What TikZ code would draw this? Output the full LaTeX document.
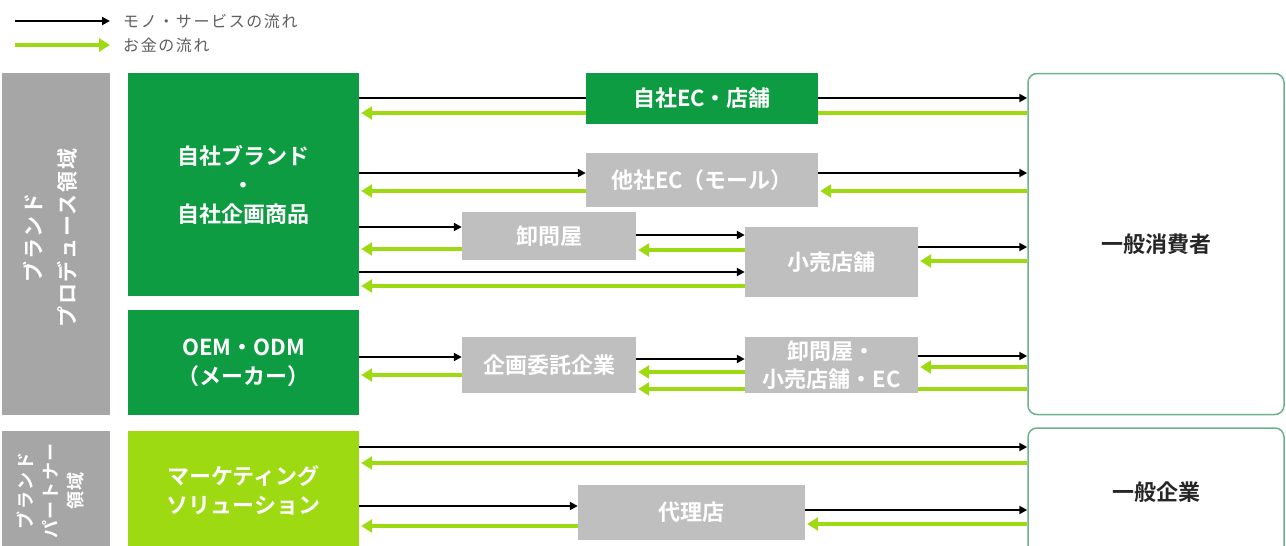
\documentclass[tikz,border=0pt]{standalone}
\usepackage{fontspec}
\setmainfont{Noto Sans CJK JP}[BoldFont={Noto Sans CJK JP Bold}]
\usetikzlibrary{arrows.meta,backgrounds}
\definecolor{brandgreen}{RGB}{14,156,66}
\definecolor{limegreen}{RGB}{158,218,18}
\definecolor{areagray}{RGB}{166,166,166}
\definecolor{boxgray}{RGB}{191,191,191}
\definecolor{frameteal}{RGB}{110,178,140}
\definecolor{keygray}{RGB}{95,95,95}
\tikzset{
  goods/.style={draw=black, line width=2.2pt, -{Triangle[length=8pt,width=8pt]}},
  money/.style={draw=limegreen, line width=4.5pt, -{Triangle[length=11pt,width=13pt]}, shorten >=2pt},
  areabox/.style={fill=areagray, inner sep=0pt},
  areatext/.style={text=white, inner sep=0pt, rotate=90, align=center, font=\bfseries\fontsize{21}{34}\selectfont\addfontfeature{LetterSpace=8}},
  mainbox/.style={fill=brandgreen, text=white, inner sep=0pt, align=center, font=\bfseries\fontsize{22}{29}\selectfont},
  flowbox/.style={fill=boxgray, text=white, inner sep=0pt, align=center, font=\bfseries\fontsize{22}{28}\selectfont},
  endbox/.style={draw=frameteal, line width=1.5pt, rounded corners=9pt, text=black!85, inner sep=0pt, font=\bfseries\fontsize{22}{28}\selectfont},
  keytext/.style={text=keygray, anchor=west, inner sep=0pt, font=\fontsize{16}{18}\selectfont\addfontfeature{LetterSpace=10}},
}

\begin{document}
\begin{tikzpicture}[x=1pt, y=-1pt]
		\useasboundingbox (0,0) rectangle (1286,546);
		
		%%%%% key %%%%%
		\coordinate (keyGoodsFrom) at (15,21);
		\coordinate (keyGoodsTo) at (110,21);
		\coordinate (keyMoneyFrom) at (15,45);
		\coordinate (keyMoneyTo) at (110,45);
		\node[keytext] (keyGoods) at (123,21) {モノ・サービスの流れ};
		\node[keytext] (keyMoney) at (123,45) {お金の流れ};
		\draw[goods] (keyGoodsFrom) -- (keyGoodsTo);
		\draw[money, shorten >=0pt] (keyMoneyFrom) -- (keyMoneyTo);
		
		%%%%% areas %%%%%
		\node[areabox, minimum width=108pt, minimum height=342pt] (prodArea) at (56,244) {};
		\node[areatext] (prodLabel) at (50,238) {ブランド\\プロデュース領域};
		\node[areabox, minimum width=108pt, minimum height=119pt] (partnerArea) at (56,490.5) {};
		\node[areatext, font=\bfseries\fontsize{18}{25}\selectfont\addfontfeature{LetterSpace=8}] (partnerLabel) at (51,491) {ブランド\\パートナー\\領域};
		
		%%%%% own side %%%%%
		\node[mainbox, minimum width=231pt, minimum height=223pt] (ownBrand) at (243.5,184.5) {自社ブランド\\・\\自社企画商品};
		\node[mainbox, minimum width=231pt, minimum height=105pt] (oem) at (243.5,362.5) {OEM・ODM\\（メーカー）};
		\node[mainbox, fill=limegreen, minimum width=231pt, minimum height=119pt] (marketing) at (243.5,490.5) {マーケティング\\ソリューション};
		
		%%%%% channels %%%%%
		\node[mainbox, minimum width=232pt, minimum height=51pt] (ownEC) at (702,98.5) {自社EC・店舗};
		\node[flowbox, minimum width=232pt, minimum height=54pt] (mall) at (702,180) {他社EC（モール）};
		\node[flowbox, minimum width=174pt, minimum height=48pt] (wholesale) at (549,236) {卸問屋};
		\node[flowbox, minimum width=173pt, minimum height=70pt] (retail) at (831.5,262) {小売店舗};
		\node[flowbox, minimum width=174pt, minimum height=56pt] (planning) at (549,365) {企画委託企業};
		\node[flowbox, minimum width=173pt, minimum height=56pt] (channels) at (831.5,365) {卸問屋・\\小売店舗・EC};
		\node[flowbox, minimum width=227pt, minimum height=55pt] (agency) at (691.5,512.5) {代理店};
		
		%%%%% customers %%%%%
		\node[endbox, minimum width=256pt, minimum height=341pt] (consumer) at (1156,244) {一般消費者};
		\node[endbox, minimum width=256pt, minimum height=128pt] (company) at (1156,492) {一般企業};
		
		%%%%% flows behind boxes %%%%%
		\begin{scope}[on background layer]
		\draw[goods] (ownBrand.east |- 0,98) -- (consumer.west |- 0,98);
		\draw[money] (consumer.west |- 0,113) -- (ownBrand.east |- 0,113);
		\draw[money] (consumer.west |- 0,389) -- (planning.east |- 0,389);
		\end{scope}
		
		% mall
		\draw[goods] (ownBrand.east |- 0,173) -- (mall.west |- 0,173);
		\draw[goods] (mall.east |- 0,173) -- (consumer.west |- 0,173);
		\draw[money] (consumer.west |- 0,191) -- (mall.east |- 0,191);
		\draw[money] (mall.west |- 0,191) -- (ownBrand.east |- 0,191);
		
		% wholesale and retail
		\draw[goods] (ownBrand.east |- 0,227) -- (wholesale.west |- 0,227);
		\draw[money] (wholesale.west |- 0,249) -- (ownBrand.east |- 0,249);
		\draw[goods] (wholesale.east |- 0,235) -- (retail.west |- 0,235);
		\draw[money] (retail.west |- 0,250) -- (wholesale.east |- 0,250);
		\draw[goods] (ownBrand.east |- 0,272) -- (retail.west |- 0,272);
		\draw[money] (retail.west |- 0,286) -- (ownBrand.east |- 0,286);
		\draw[goods] (retail.east |- 0,247) -- (consumer.west |- 0,247);
		\draw[money] (consumer.west |- 0,261) -- (retail.east |- 0,261);
		
		% oem
		\draw[goods] (oem.east |- 0,357) -- (planning.west |- 0,357);
		\draw[money] (planning.west |- 0,375) -- (oem.east |- 0,375);
		\draw[goods] (planning.east |- 0,359) -- (channels.west |- 0,359);
		\draw[money] (channels.west |- 0,372) -- (planning.east |- 0,372);
		\draw[goods] (channels.east |- 0,356) -- (consumer.west |- 0,356);
		\draw[money] (consumer.west |- 0,367) -- (channels.east |- 0,367);
		
		% marketing
		\draw[goods] (marketing.east |- 0,447) -- (company.west |- 0,447);
		\draw[money] (company.west |- 0,463) -- (marketing.east |- 0,463);
		\draw[goods] (marketing.east |- 0,506) -- (agency.west |- 0,506);
		\draw[money] (agency.west |- 0,526) -- (marketing.east |- 0,526);
		\draw[goods] (agency.east |- 0,510) -- (company.west |- 0,510);
		\draw[money] (company.west |- 0,524) -- (agency.east |- 0,524);
		
\end{tikzpicture}
\end{document}
